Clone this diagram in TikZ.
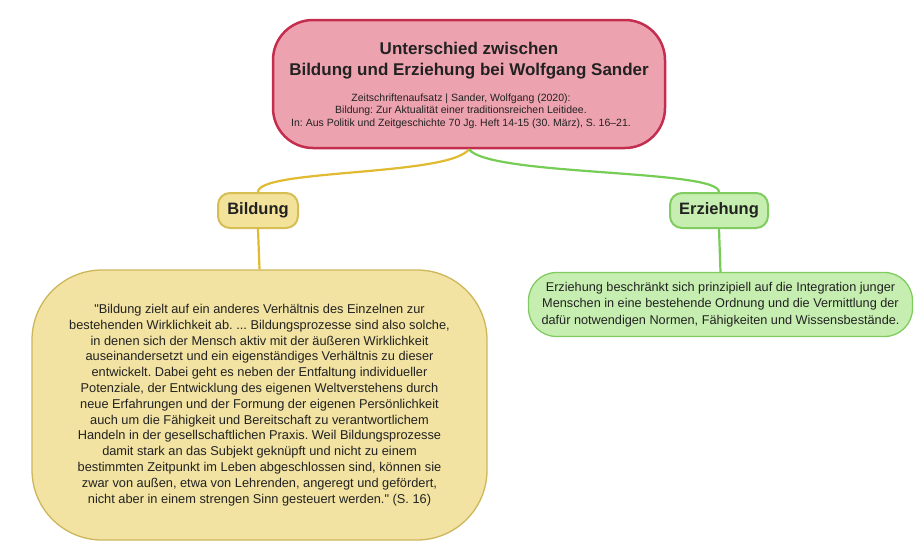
\documentclass[tikz,border=0pt]{standalone}
\usepackage{fontspec}
\setmainfont{Liberation Sans}[Ligatures=TeXOff]
\frenchspacing
\definecolor{rootfill}{HTML}{EDA3AF}
\definecolor{rootdraw}{HTML}{C42D4E}
\definecolor{yelfill}{HTML}{F2E29A}
\definecolor{yeldraw}{HTML}{D6BE55}
\definecolor{quotefill}{HTML}{F2E3A2}
\definecolor{quotedraw}{HTML}{CDB65A}
\definecolor{grnfill}{HTML}{C6EEB0}
\definecolor{grndraw}{HTML}{80CC60}
\definecolor{yelline}{HTML}{E0BA30}
\definecolor{grnline}{HTML}{77CC55}
\definecolor{txt}{HTML}{222222}
\tikzset{
  box/.style={inner sep=0pt, align=center, text=txt},
  rootbox/.style={box, fill=rootfill, draw=rootdraw, line width=2.5pt, rounded corners=40pt, minimum width=392pt, minimum height=128pt},
  labelbox/.style={box, line width=2pt, rounded corners=12pt, minimum height=35pt, font=\bfseries\fontsize{16.5}{20}\selectfont},
  textbox/.style={box, line width=1.3pt},
  yconn/.style={draw=yelline, line width=2.2pt},
  gconn/.style={draw=grnline, line width=2.2pt},
}
\begin{document}
\begin{tikzpicture}[x=1pt,y=-1pt]
\useasboundingbox (0,0) rectangle (920,552);
\node[rootbox] (root) at (469,84) {};
\node[box, font=\bfseries\fontsize{17}{21}\selectfont] (title) at (469,61) {Unterschied zwischen\\Bildung und Erziehung bei Wolfgang Sander};
\node[box, font=\fontsize{10.5}{12.5}\selectfont] (sub) at (461,111) {Zeitschriftenaufsatz | Sander, Wolfgang (2020):\\Bildung: Zur Aktualität einer traditionsreichen Leitidee.\\In: Aus Politik und Zeitgeschichte 70 Jg. Heft 14-15 (30. März), S. 16–21.};
\node[labelbox, fill=yelfill, draw=yeldraw, minimum width=80pt] (bildung) at (258,210.5) {Bildung};
\node[labelbox, fill=grnfill, draw=grndraw, minimum width=98pt] (erz) at (719,210.5) {Erziehung};
\node[textbox, font=\fontsize{12.8}{15.8}\selectfont, fill=quotefill, draw=quotedraw, rounded corners=70pt, minimum width=455pt, minimum height=270pt] (quote) at (259.5,405) {"Bildung zielt auf ein anderes Verhältnis des Einzelnen zur\\bestehenden Wirklichkeit ab. ... Bildungsprozesse sind also solche,\\in denen sich der Mensch aktiv mit der äußeren Wirklichkeit\\auseinandersetzt und ein eigenständiges Verhältnis zu dieser\\entwickelt. Dabei geht es neben der Entfaltung individueller\\Potenziale, der Entwicklung des eigenen Weltverstehens durch\\neue Erfahrungen und der Formung der eigenen Persönlichkeit\\auch um die Fähigkeit und Bereitschaft zu verantwortlichem\\Handeln in der gesellschaftlichen Praxis. Weil Bildungsprozesse\\damit stark an das Subjekt geknüpft und nicht zu einem\\bestimmten Zeitpunkt im Leben abgeschlossen sind, können sie\\zwar von außen, etwa von Lehrenden, angeregt und gefördert,\\nicht aber in einem strengen Sinn gesteuert werden." (S. 16)};
\node[textbox, font=\fontsize{12.7}{16.5}\selectfont, fill=grnfill, draw=grndraw, rounded corners=28pt, minimum width=384pt, minimum height=64pt] (erztext) at (720.5,304.5) {Erziehung beschränkt sich prinzipiell auf die Integration junger\\Menschen in eine bestehende Ordnung und die Vermittlung der\\dafür notwendigen Normen, Fähigkeiten und Wissensbestände.};
\draw[yconn] (root.south) .. controls +(-20,27) and +(0,-23) .. (bildung.north);
\draw[gconn] (root.south) .. controls +(20,27) and +(0,-23) .. (erz.north);
\draw[yconn] (bildung.south) -- (quote.north);
\draw[gconn] (erz.south) -- (erztext.north);
\end{tikzpicture}
\end{document}
